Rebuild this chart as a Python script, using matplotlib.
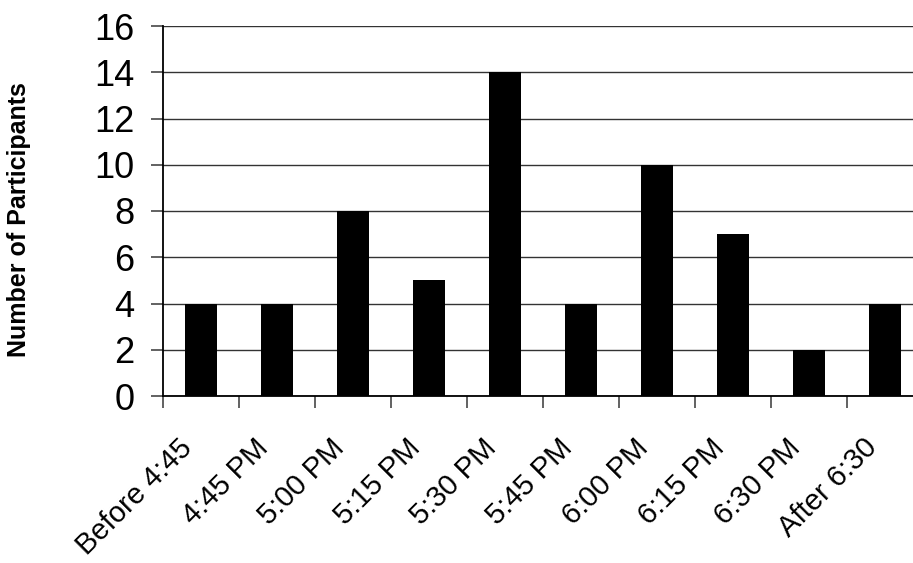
import matplotlib
matplotlib.use("Agg")
import matplotlib.pyplot as plt

categories = ["Before 4:45", "4:45 PM", "5:00 PM", "5:15 PM", "5:30 PM",
              "5:45 PM", "6:00 PM", "6:15 PM", "6:30 PM", "After 6:30"]
participants = [4, 4, 8, 5, 14, 4, 10, 7, 2, 4]
y_ticks = [0, 2, 4, 6, 8, 10, 12, 14, 16]

plt.rcParams['font.family'] = ['Liberation Sans', 'DejaVu Sans']

W, H = 913, 563
fig = plt.figure(figsize=(W / 100, H / 100), dpi=100)
left, right, top, bottom = 163, 923, 26, 396
ax = fig.add_axes([left / W, 1 - bottom / H, (right - left) / W, (bottom - top) / H])

x = list(range(len(categories)))
ax.bar(x, participants, width=0.41, color='black', zorder=3)

ax.set_xlim(-0.5, len(categories) - 0.5)
ax.set_ylim(0, 16)
ax.set_yticks(y_ticks)
ax.set_yticklabels([str(v) for v in y_ticks], fontsize=26)
ax.yaxis.grid(True, color='#333333', linewidth=1.0, zorder=0)

# category ticks sit between the bars
ax.set_xticks([i - 0.5 for i in x])
ax.set_xticklabels([])
ax.tick_params(axis='x', which='major', length=8.6, width=1.3, color='#555555')
ax.tick_params(axis='y', length=8.6, width=1.3, color='#555555', pad=12)

# rotated category labels, each ending just under its bar
unit = (right - left) / len(categories)
for i, name in enumerate(categories):
    ax.text(i - 7 / unit, -53 / (bottom - top), name,
            transform=ax.get_xaxis_transform(), rotation=45,
            rotation_mode='anchor', ha='right', va='baseline', fontsize=21)

for s in ['top', 'right']:
    ax.spines[s].set_visible(False)
ax.spines['left'].set_linewidth(1.3)
ax.spines['bottom'].set_linewidth(1.3)

fig.text(19 / W, 1 - 220 / H, "Number of Participants", rotation=90,
         fontsize=18, fontweight='bold', ha='center', va='center')

fig.savefig("out.png", dpi=100)
